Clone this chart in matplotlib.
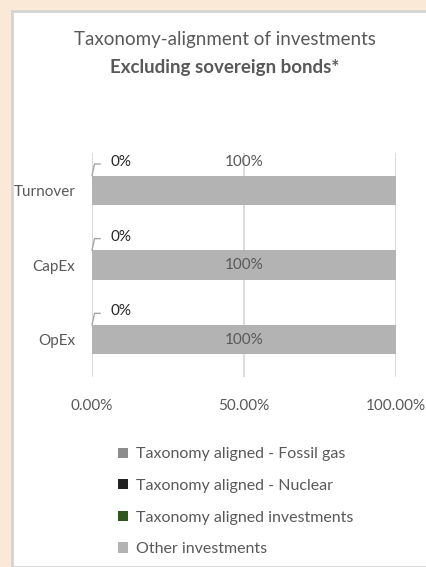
import matplotlib
matplotlib.use("Agg")
import matplotlib.pyplot as plt
from matplotlib.patches import Rectangle

plt.rcParams['font.family'] = ['Lato', 'DejaVu Sans']

# data
categories = ["Turnover", "CapEx", "OpEx"]
series_names = ["Taxonomy aligned - Fossil gas", "Taxonomy aligned - Nuclear",
                "Taxonomy aligned investments", "Other investments"]
fossil_gas = [0, 0, 0]
nuclear = [0, 0, 0]
aligned = [0, 0, 0]
other = [100, 100, 100]
xticks = [0, 50, 100]
xtick_labels = ["0.00%", "50.00%", "100.00%"]

colors = ["#8c8c8c", "#222222", "#2d5a1b", "#b3b3b3"]
text_gray = "#595959"
W, H = 427, 567

fig = plt.figure(figsize=(W / 100, H / 100), dpi=100)
fig.patch.set_facecolor("#fbe9d8")

# white panel with light border
panel = Rectangle((12 / W, 0), 1 - 12 / W, 1 - 11 / H, transform=fig.transFigure,
                  facecolor="white", edgecolor="#d4d4d4", linewidth=2, zorder=-5)
fig.patches.append(panel)

fig.text(225 / W, 1 - 40 / H, "Taxonomy-alignment of investments", ha="center",
         va="center", fontsize=13.5, color=text_gray)
fig.text(225 / W, 1 - 67 / H, "Excluding sovereign bonds*", ha="center",
         va="center", fontsize=13.5, color=text_gray, fontweight="bold")

ax = fig.add_axes([92 / W, (H - 377) / H, 304 / W, 224 / H])
ax.set_facecolor("none")
y = list(range(len(categories)))
bh = 0.39
left = [0, 0, 0]
for name, vals, c in zip(series_names, [fossil_gas, nuclear, aligned, other], colors):
    ax.barh(y, vals, left=left, height=bh, color=c, label=name, zorder=2)
    left = [a + b for a, b in zip(left, vals)]

ax.set_xlim(0, 100)
ax.set_ylim(len(categories) - 0.5, -0.5)
ax.set_xticks(xticks)
ax.set_xticklabels(xtick_labels, fontsize=11, color=text_gray)
ax.set_yticks(y)
ax.set_yticklabels(categories, fontsize=11, color=text_gray)
ax.tick_params(length=0, axis="x", pad=16)
ax.tick_params(length=0, axis="y", pad=12)
for s in ax.spines.values():
    s.set_visible(False)
ax.grid(axis="x", color="#d9d9d9", linewidth=1.3, zorder=1)
ax.set_axisbelow(True)

# data labels
for i, (cat, a, o) in enumerate(zip(categories, aligned, other)):
    ax.annotate("%d%%" % a, xy=(0, i - bh / 2), xytext=(13, 10),
                textcoords="offset points", ha="left", va="center",
                fontsize=11, color="#262626",
                arrowprops=dict(arrowstyle="-", color="#a6a6a6", lw=1,
                                connectionstyle="angle,angleA=0,angleB=78,rad=0",
                                relpos=(0, 0.35), shrinkA=5, shrinkB=0))
    if i == 0:
        ax.annotate("%d%%" % o, xy=(o / 2, i - bh / 2), xytext=(0, 10),
                    textcoords="offset points", ha="center", va="center",
                    fontsize=11, color=text_gray)
    else:
        ax.text(o / 2, i, "%d%%" % o, ha="center", va="center",
                fontsize=11, color=text_gray, zorder=3)

handles, labels = ax.get_legend_handles_labels()
fig.legend(handles, labels, loc="upper left", bbox_to_anchor=(104 / W, 1 - 433 / H),
           frameon=False, fontsize=11.5, labelcolor=text_gray, handlelength=0.6,
           handleheight=0.6, handletextpad=0.5, labelspacing=1.1)

fig.savefig("out.png", dpi=100, facecolor=fig.get_facecolor())
